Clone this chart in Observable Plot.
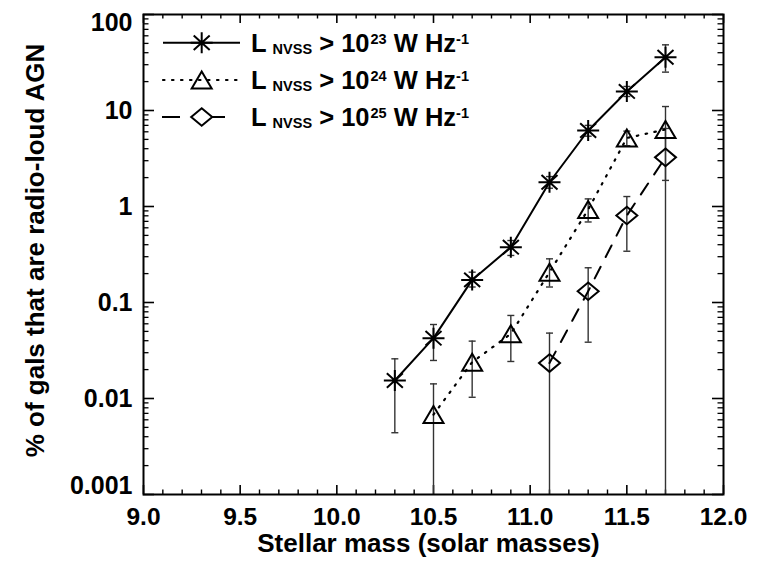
<!DOCTYPE html>
<html><head><meta charset="utf-8">
<script src="https://cdn.jsdelivr.net/npm/d3@7"></script>
<script src="https://cdn.jsdelivr.net/npm/@observablehq/plot@0.6"></script>
<style>
body{margin:0;background:#fff}
#chart svg{display:block}
</style>
</head><body><div id="chart"></div>
<script>
// ---- data ----
const masses1 = [10.3, 10.5, 10.7, 10.9, 11.1, 11.3, 11.5, 11.7];
const frac1   = [0.0154, 0.0425, 0.172, 0.377, 1.79, 6.19, 15.8, 35.9];
const lo1     = [0.0044, 0.0249, 0.145, 0.309, 1.55, 5.4, 14.0, 25.1];
const hi1     = [0.0259, 0.059, 0.207, 0.442, 2.05, 7.0, 17.8, 48.3];

const masses2 = [10.5, 10.7, 10.9, 11.1, 11.3, 11.5, 11.7];
const frac2   = [0.0068, 0.0239, 0.0472, 0.207, 0.93, 5.17, 6.34];
const lo2     = [0.001, 0.0103, 0.0243, 0.145, 0.69, 4.3, 1.87];
const hi2     = [0.0142, 0.0396, 0.0733, 0.285, 1.2, 6.1, 11.0];

const masses3 = [11.1, 11.3, 11.5, 11.7];
const frac3   = [0.0234, 0.131, 0.806, 3.25];
const lo3     = [0.001, 0.0386, 0.342, 0.001];
const hi3     = [0.048, 0.23, 1.27, 6.5];

const xTicks = [9.0, 9.5, 10.0, 10.5, 11.0, 11.5, 12.0];
const xTickLabels = ["9.0", "9.5", "10.0", "10.5", "11.0", "11.5", "12.0"];
const yTicks = [0.001, 0.01, 0.1, 1, 10, 100];
const yTickLabels = ["0.001", "0.01", "0.1", "1", "10", "100"];
const legendExponents = ["23", "24", "25"];
const xTitle = "Stellar mass (solar masses)";
const yTitle = "% of gals that are radio-loud AGN";

// minor ticks
const xMinor = d3.range(90, 121).map(d => d / 10).filter(d => !xTicks.some(t => Math.abs(t - d) < 1e-9));
const yMinor = [];
for (let e = -3; e < 2; e++) for (let m = 2; m <= 9; m++) yMinor.push(m * Math.pow(10, e));

const rows = (m, v, lo, hi) => m.map((x, i) => ({x, v: v[i], lo: lo[i], hi: hi[i]}));
const s1 = rows(masses1, frac1, lo1, hi1);
const s2 = rows(masses2, frac2, lo2, hi2);
const s3 = rows(masses3, frac3, lo3, hi3);
const all = [...s1, ...s2, ...s3];
const floor = 0.001;

// ---- custom symbols ----
const rad = size => Math.sqrt(size / Math.PI);
const asterisk = {draw(c, size) { const r = rad(size);
  c.moveTo(-1.1*r, 0); c.lineTo(1.1*r, 0);
  c.moveTo(0, -1.05*r); c.lineTo(0, 1.05*r);
  c.moveTo(-0.8*r, -0.72*r); c.lineTo(0.8*r, 0.72*r);
  c.moveTo(-0.8*r, 0.72*r); c.lineTo(0.8*r, -0.72*r); }};
const triangle = {draw(c, size) { const r = rad(size);
  c.moveTo(0, -0.85*r); c.lineTo(1.0*r, 0.85*r); c.lineTo(-1.0*r, 0.85*r); c.closePath(); }};
const diamond = {draw(c, size) { const r = rad(size);
  c.moveTo(0, -0.88*r); c.lineTo(1.05*r, 0); c.lineTo(0, 0.88*r); c.lineTo(-1.05*r, 0); c.closePath(); }};
const cap = {draw(c, size) { const r = rad(size); c.moveTo(-r, 0); c.lineTo(r, 0); }};

const W = 768, H = 564, mL = 143, mR = 45, mT = 14, mB = 70;
const pw = W - mL - mR, ph = H - mT - mB;
const font = "'Liberation Sans', Arial, Helvetica, sans-serif";
const txt = {fontFamily: font, fontWeight: "bold", fill: "black"};

const chart = Plot.plot({
  width: W, height: H,
  marginLeft: mL, marginRight: mR, marginTop: mT, marginBottom: mB,
  style: {fontFamily: font, background: "white", color: "black"},
  x: {type: "linear", domain: [9, 12], axis: null},
  y: {type: "log", domain: [0.001, 100], axis: null},
  marks: [
    // ticks (inward, all four sides)
    Plot.tickX(xTicks, {x: d => d, insetTop: ph - 9, strokeWidth: 1.6}),
    Plot.tickX(xTicks, {x: d => d, insetBottom: ph - 9, strokeWidth: 1.6}),
    Plot.tickX(xMinor, {x: d => d, insetTop: ph - 4.5, strokeWidth: 1.4}),
    Plot.tickX(xMinor, {x: d => d, insetBottom: ph - 4.5, strokeWidth: 1.4}),
    Plot.tickY(yTicks, {y: d => d, insetRight: pw - 11, strokeWidth: 1.6}),
    Plot.tickY(yTicks, {y: d => d, insetLeft: pw - 11, strokeWidth: 1.6}),
    Plot.tickY(yMinor, {y: d => d, insetRight: pw - 5.5, strokeWidth: 1.3}),
    Plot.tickY(yMinor, {y: d => d, insetLeft: pw - 5.5, strokeWidth: 1.3}),
    // error bars
    Plot.ruleX(all, {x: "x", y1: "lo", y2: "hi", stroke: "#333", strokeWidth: 1.4}),
    Plot.dot(all, {x: "x", y: "hi", symbol: cap, r: 3.5, stroke: "#333", strokeWidth: 1.4}),
    Plot.dot(all.filter(d => d.lo > floor), {x: "x", y: "lo", symbol: cap, r: 3.5, stroke: "#333", strokeWidth: 1.4}),
    // lines
    Plot.line(s1, {x: "x", y: "v", stroke: "black", strokeWidth: 2}),
    Plot.line(s2, {x: "x", y: "v", stroke: "black", strokeWidth: 2.2, strokeDasharray: "1.5 7.5", strokeLinecap: "round"}),
    Plot.line(s3, {x: "x", y: "v", stroke: "black", strokeWidth: 2, strokeDasharray: "13 11"}),
    // symbols
    Plot.dot(s1, {x: "x", y: "v", symbol: asterisk, r: 10, fill: "none", stroke: "black", strokeWidth: 2}),
    Plot.dot(s2, {x: "x", y: "v", symbol: triangle, r: 10, fill: "none", stroke: "black", strokeWidth: 2}),
    Plot.dot(s3, {x: "x", y: "v", symbol: diamond, r: 10, fill: "none", stroke: "black", strokeWidth: 2}),
    Plot.frame({stroke: "black", strokeWidth: 2}),
    // tick labels
    Plot.text(xTicks, {x: d => d, frameAnchor: "bottom", dy: 30, textAnchor: "middle",
      text: (d, i) => xTickLabels[i], fontSize: 24.5, ...txt}),
    Plot.text(yTicks, {y: d => d, frameAnchor: "left", dx: -11, textAnchor: "end",
      text: (d, i) => yTickLabels[i], fontSize: 25, ...txt,
      filter: (d, i) => i > 0 && i < yTicks.length - 1}),
    Plot.text([yTicks[0]], {y: d => d, frameAnchor: "left", dx: -11, dy: -9, textAnchor: "end",
      text: () => yTickLabels[0], fontSize: 25, ...txt}),
    Plot.text([yTicks[yTicks.length - 1]], {y: d => d, frameAnchor: "left", dx: -11, dy: 8, textAnchor: "end",
      text: () => yTickLabels[yTickLabels.length - 1], fontSize: 25, ...txt}),
    // axis titles
    Plot.text([xTitle], {frameAnchor: "bottom", dy: 57, dx: -5, textAnchor: "middle", text: d => d, fontSize: 26, ...txt}),
    Plot.text([yTitle], {frameAnchor: "left", dx: -108, dy: -4, rotate: -90, textAnchor: "middle", text: d => d, fontSize: 26, ...txt})
  ]
});
document.getElementById("chart").appendChild(chart);

// ---- legend (inside plot, upper left) ----
const svg = d3.select(chart.tagName.toLowerCase() === "svg" ? chart : chart.querySelector("svg"));
const lg = svg.append("g").attr("class", "legend").attr("text-anchor", "start");
const legendStyles = [
  {sym: asterisk, dash: null, cap: "butt", sw: 2},
  {sym: triangle, dash: "1.5 7.5", cap: "round", sw: 2.2},
  {sym: diamond, dash: "18 27", cap: "butt", sw: 2}
];
const rowY = [42.7, 80, 117];
legendStyles.forEach((st, i) => {
  const y = rowY[i];
  const line = lg.append("line").attr("x1", st.dash === "18 27" ? 162 : 163).attr("x2", 240).attr("y1", y).attr("y2", y)
    .attr("stroke", "black").attr("stroke-width", st.sw).attr("stroke-linecap", st.cap);
  if (st.dash) line.attr("stroke-dasharray", st.dash);
  lg.append("path").attr("transform", `translate(201.7,${y})`)
    .attr("d", d3.symbol(st.sym, 100 * Math.PI)())
    .attr("fill", i === 2 ? "white" : "none").attr("stroke", "black").attr("stroke-width", 2);
  const t = lg.append("text").attr("x", 251).attr("y", y + 9).attr("text-anchor", "start")
    .style("font-family", font).style("font-weight", "bold").style("font-size", "25.5px")
    .attr("fill", "black").style("white-space", "pre");
  t.append("tspan").text("L");
  t.append("tspan").style("font-size", "14.5px").attr("dx", 6).attr("dy", 2).text("NVSS");
  t.append("tspan").attr("dy", -2).text(" > 10");
  t.append("tspan").style("font-size", "14.5px").attr("dx", 1).attr("dy", -8).text(legendExponents[i]);
  t.append("tspan").attr("dy", 8).text(" W Hz");
  t.append("tspan").style("font-size", "14.5px").attr("dy", -8).text("-1");
});
</script>
</body></html>
